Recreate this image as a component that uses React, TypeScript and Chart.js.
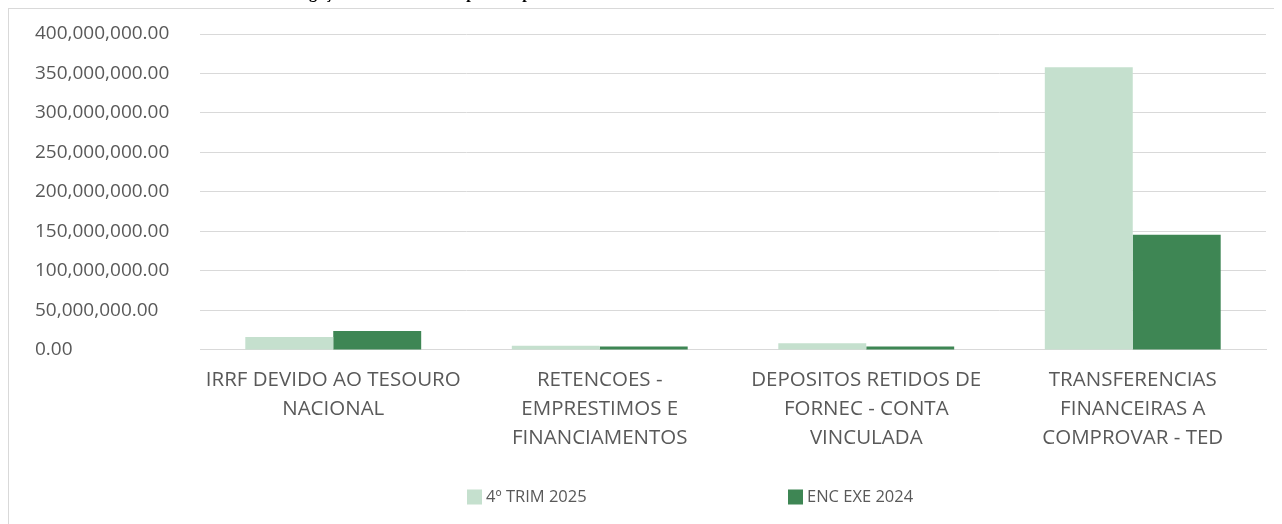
import React, { useEffect, useRef } from "react";
import { Chart, registerables } from "chart.js";

Chart.register(...registerables);

const categories: string[][] = [
  ["IRRF DEVIDO AO TESOURO", "NACIONAL"],
  ["RETENCOES -", "EMPRESTIMOS E", "FINANCIAMENTOS"],
  ["DEPOSITOS RETIDOS DE", "FORNEC - CONTA", "VINCULADA"],
  ["TRANSFERENCIAS", "FINANCEIRAS A", "COMPROVAR - TED"],
];
const seriesNames = ["4º TRIM 2025", "ENC EXE 2024"];
const trim2025 = [16500000, 5500000, 8500000, 358000000];
const exe2024 = [24000000, 4500000, 4500000, 146000000];
const yMax = 400000000;
const yStep = 50000000;
const titleText = "Obrigações de Curto Prazo por Grupo de Contas";

const FONT = "'Open Sans', 'DejaVu Sans', sans-serif";
const TEXT = "#595959";
const LIGHT = "#c5e0ce";
const DARK = "#3e8654";
const GRID = "#d9d9d9";

const legendPlugin = {
  id: "customLegend",
  afterDraw(chart: any) {
    const ctx = chart.ctx;
    const area = chart.chartArea;
    const cx = (area.left + area.right) / 2;
    const offsets = [-266, 55];
    const y = 488;
    ctx.save();
    ctx.font = `16.5px ${FONT}`;
    ctx.textBaseline = "middle";
    ctx.textAlign = "left";
    chart.data.datasets.forEach((ds: any, i: number) => {
      const x = cx + offsets[i];
      ctx.fillStyle = ds.backgroundColor;
      ctx.fillRect(x, y - 7.5, 15, 15);
      ctx.fillStyle = TEXT;
      ctx.fillText(ds.label, x + 19, y);
    });
    ctx.restore();
  },
};

export default function App() {
  const ref = useRef<HTMLCanvasElement>(null);
  useEffect(() => {
    document.body.style.overflow = "hidden";
    const chart = new Chart(ref.current!, {
      type: "bar",
      data: {
        labels: categories,
        datasets: [
          { label: seriesNames[0], data: trim2025, backgroundColor: LIGHT, borderWidth: 0 },
          { label: seriesNames[1], data: exe2024, backgroundColor: DARK, borderWidth: 0 },
        ],
      },
      options: {
        animation: false,
        responsive: false,
        devicePixelRatio: 1,
        layout: { padding: { left: 26, right: 16, top: 25, bottom: 55 } },
        datasets: { bar: { categoryPercentage: 0.66, barPercentage: 1 } },
        plugins: { legend: { display: false }, tooltip: { enabled: false }, title: { display: false } },
        scales: {
          x: {
            grid: { display: false, drawTicks: false },
            border: { display: true, color: GRID, width: 1 },
            ticks: {
              color: TEXT,
              font: { family: FONT, size: 20.5, lineHeight: 1.415 },
              padding: 16,
              maxRotation: 0,
              autoSkip: false,
            },
          },
          y: {
            min: 0,
            max: yMax,
            grid: { color: GRID, lineWidth: 1, drawTicks: false },
            border: { display: false },
            ticks: {
              stepSize: yStep,
              color: TEXT,
              crossAlign: "far",
              padding: 0,
              font: { family: FONT, size: 19 },
              callback: (v: any) =>
                Number(v).toLocaleString("en-US", { minimumFractionDigits: 2, maximumFractionDigits: 2 }),
            },
            afterFit: (scale: any) => {
              scale.width = 165;
            },
          },
        },
      },
      plugins: [legendPlugin],
    });
    return () => chart.destroy();
  }, []);

  return (
    <div style={{ position: "relative", width: 1274, height: 516 }}>
      <div
        style={{
          position: "fixed",
          left: 276,
          top: -17,
          whiteSpace: "nowrap",
          fontFamily: "'Liberation Serif', 'Times New Roman', serif",
          fontWeight: "bold",
          fontSize: 16,
          lineHeight: "19px",
          color: "#000",
        }}
      >
        {titleText}
      </div>
      <div
        style={{
          position: "absolute",
          left: 0,
          top: 0,
          width: 1274,
          height: 516,
          boxSizing: "border-box",
          borderTop: `1px solid ${GRID}`,
          borderLeft: `1px solid ${GRID}`,
        }}
      >
        <canvas ref={ref} width={1273} height={515} style={{ display: "block" }} />
      </div>
    </div>
  );
}
